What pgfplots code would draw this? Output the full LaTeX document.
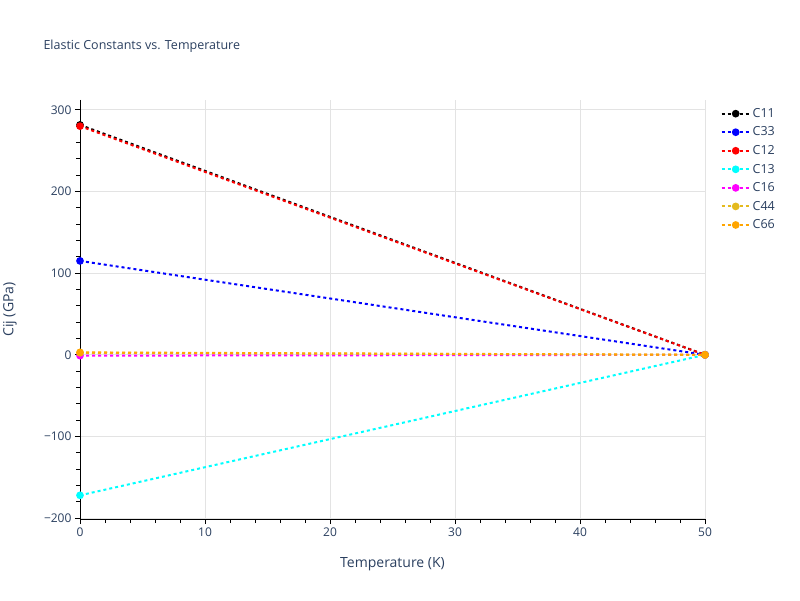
\documentclass[border=0pt]{standalone}
\usepackage{pgfplots}
\pgfplotsset{compat=1.18}
\usepackage{fontspec}
\setmainfont{Open Sans}
\definecolor{txt}{HTML}{2A3F5F}
\definecolor{cCyan}{HTML}{00FFFF}
\definecolor{cMag}{HTML}{FF00FF}
\definecolor{cGold}{RGB}{228,186,30}
\definecolor{cOrange}{HTML}{FFA500}
\begin{document}
\begin{tikzpicture}[x=1pt,y=1pt]
\useasboundingbox (0,0) rectangle (800,600);
\node[anchor=west,text=txt,font=\fontsize{12.5}{14}\selectfont] at (40,554) {Elastic Constants vs. Temperature};
\node[rotate=90,text=txt,font=\fontsize{14}{16}\selectfont] at (10,290.5) {Cij (GPa)};
\begin{axis}[
  at={(80pt,81pt)}, anchor=south west,
  scale only axis, width=625pt, height=419pt,
  xmin=0, xmax=50, ymin=-201, ymax=312,
  xtick={0,10,20,30,40,50}, ytick={-200,-100,0,100,200,300},
  yticklabels={−200,−100,0,100,200,300},
  minor x tick num=4, minor y tick num=4,
  tick align=outside, major tick length=5pt, minor tick length=4pt,
  tick style={black, line width=0.8pt},
  xtick pos=left, ytick pos=left,
  axis line style={draw=none},
  grid=major, major grid style={gray!22, line width=0.8pt},
  ticklabel style={text=txt, font=\fontsize{12}{14}\selectfont},
  /pgf/number format/assume math mode=true,
  xlabel={Temperature (K)},
  label style={text=txt, font=\fontsize{14}{16}\selectfont},
  xlabel style={at={(0.5,0)}, anchor=north, yshift=-35pt},
  every axis plot/.append style={line width=2pt, dash pattern=on 3pt off 3pt, mark=*, mark size=2.8pt, mark options={solid}},
  legend style={at={(1.02,0.99)}, anchor=north west, draw=none, fill=none,
    font=\fontsize{12.5}{15}\selectfont, text=txt, row sep=4pt},
  legend cell align=left,
  legend image code/.code={\draw[#1, mark repeat=2, mark phase=2] plot coordinates {(0pt,0pt) (14pt,0pt) (28pt,0pt)};},
]
\draw[black, line width=1pt] (rel axis cs:0,1) -- (rel axis cs:0,0) -- (rel axis cs:1,0);
\addplot[black] coordinates {(0,281.5) (50,0)};
\addlegendentry{C11}
\addplot[blue] coordinates {(0,115) (50,0)};
\addlegendentry{C33}
\addplot[red] coordinates {(0,280) (50,0)};
\addlegendentry{C12}
\addplot[cCyan] coordinates {(0,-172) (50,0)};
\addlegendentry{C13}
\addplot[cMag] coordinates {(0,-1) (50,0)};
\addlegendentry{C16}
\addplot[cGold] coordinates {(0,2.5) (50,0)};
\addlegendentry{C44}
\addplot[cOrange] coordinates {(0,3) (50,0)};
\addlegendentry{C66}
\end{axis}
\end{tikzpicture}
\end{document}
